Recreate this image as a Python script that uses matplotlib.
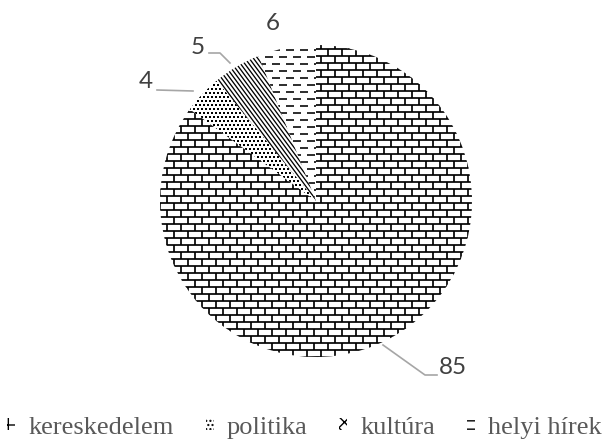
import numpy as np
import matplotlib
matplotlib.use("Agg")
import matplotlib.pyplot as plt
from matplotlib.collections import LineCollection
from matplotlib.patches import Patch

categories = ["kereskedelem", "politika", "kultúra", "helyi hírek"]
values = [85, 4, 5, 6]
legend_hatches = ["+", "....", "xxx", "--"]

W, H = 604, 441
CX, CY, R = 316, 441 - 201, 156
PX = 0.72  # one pixel in points

fig = plt.figure(figsize=(W / 100, H / 100), dpi=100)
ax = fig.add_axes([0, 0, 1, 1])

wedges, _ = ax.pie(values, center=(CX, CY), radius=R, startangle=90,
                   counterclock=False, colors=["white"] * 4,
                   wedgeprops=dict(edgecolor="white", linewidth=1.5))
ax.set_xlim(0, W)
ax.set_ylim(0, H)
ax.set_aspect("equal")
ax.axis("off")


def clip_add(coll, wedge):
    ax.add_collection(coll)
    coll.set_clip_path(wedge)


# bricks for kereskedelem
bh, bw = 7, 14
segs = []
rows = np.arange(CY - R - bh, CY + R + bh, bh)
for k, y in enumerate(rows):
    segs.append([(CX - R - 5, y), (CX + R + 5, y)])
    off = (k % 2) * bw / 2
    for x in np.arange(CX - R - bw + off, CX + R + bw, bw):
        segs.append([(x, y), (x, y + bh)])
clip_add(LineCollection(segs, colors="black", linewidths=1.7 * PX), wedges[0])

# dots for politika
pts = []
for k, y in enumerate(np.arange(CY, CY + R + 4, 4)):
    off = (k % 2) * 2
    for x in np.arange(CX - R - 4 + off, CX + 4, 4):
        pts.append((x, y))
pts = np.array(pts)
sc = ax.scatter(pts[:, 0], pts[:, 1], s=1.4, marker="s", color="black",
                linewidths=0)
sc.set_clip_path(wedges[1])

# diagonal lines for kultúra
ang = np.deg2rad(-53.5)
d = np.array([np.cos(ang), np.sin(ang)])
nrm = np.array([-d[1], d[0]])
segs = []
for t in np.arange(-R - 10, R + 10, 3.4):
    p = np.array([CX, CY]) + nrm * t
    segs.append([tuple(p - d * 2 * R), tuple(p + d * 2 * R)])
clip_add(LineCollection(segs, colors="black", linewidths=1.3 * PX), wedges[2])

# dashes for helyi hírek
segs = []
for k, y in enumerate(np.arange(CY - 3, CY + R + 7, 7)):
    off = (k % 2) * 7
    for x in np.arange(CX - R - 14 + off, CX + 14, 14):
        segs.append([(x, y), (x + 8, y)])
clip_add(LineCollection(segs, colors="black", linewidths=1.6 * PX), wedges[3])

# value labels with leader lines
lab = dict(fontsize=17.5, color="#404040", family="Lato",
           ha="center", va="center")
lead = dict(color="#a6a6a6", linewidth=1.2)
ax.text(273, H - 24, str(values[3]), **lab)
ax.text(198, H - 47, str(values[2]), **lab)
ax.plot([209, 220, 230], [H - 53, H - 53, H - 63], **lead)
ax.text(146, H - 82, str(values[1]), **lab)
ax.plot([157, 193], [H - 90, H - 91], **lead)
ax.text(453, H - 368, str(values[0]), **lab)
ax.plot([383, 425, 437], [H - 345, H - 375, H - 375], **lead)

handles = [Patch(facecolor="white", edgecolor="black", linewidth=0, hatch=h)
           for h in legend_hatches]
fig.legend(handles, categories, loc="center", bbox_to_anchor=(0.504, 0.03),
           ncol=4, frameon=False, handlelength=0.3, handleheight=0.3,
           handletextpad=0.5, columnspacing=1.2, borderpad=0,
           prop=dict(family="Liberation Serif", size=19),
           labelcolor="#595959")

fig.savefig("out.png", dpi=100)
